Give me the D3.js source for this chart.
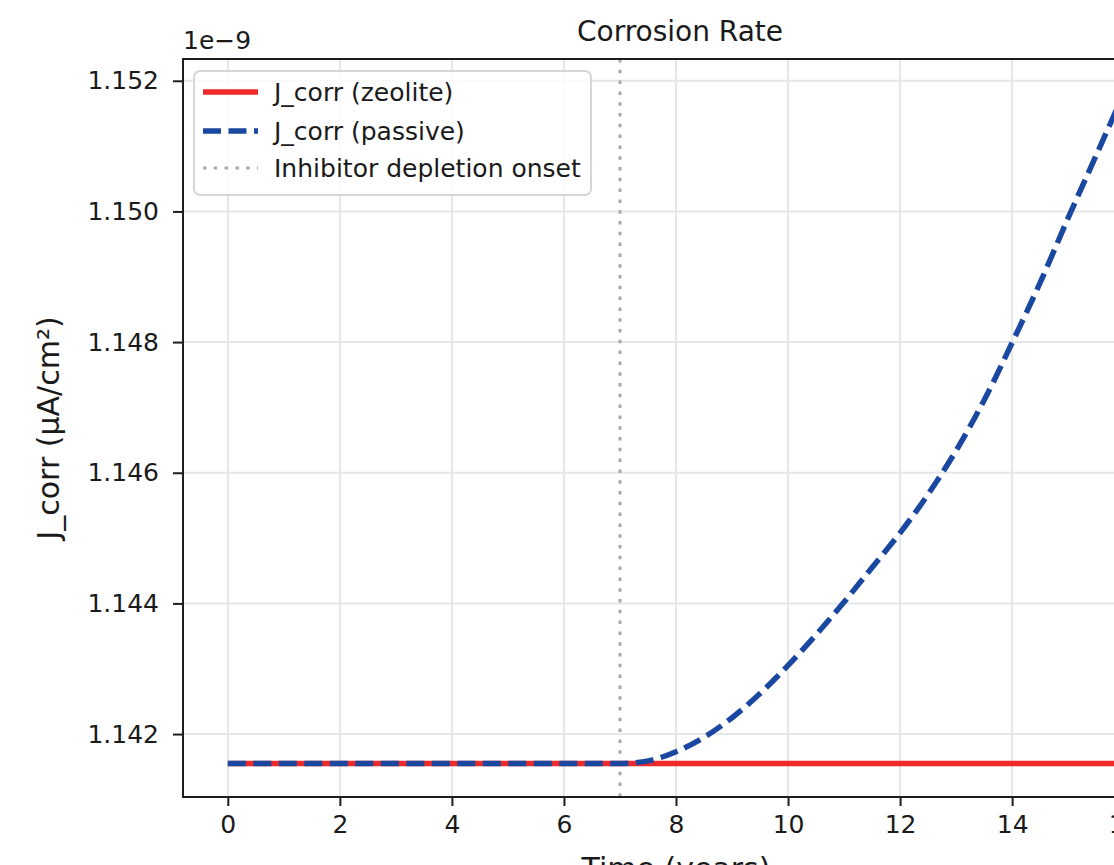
<!DOCTYPE html>
<html>
<head>
<meta charset="utf-8">
<script src="https://cdn.jsdelivr.net/npm/d3@7"></script>
<style>
  html, body { margin: 0; padding: 0; background: #fff; overflow: hidden; }
  svg { display: block; font-family: "DejaVu Sans", sans-serif; }
</style>
</head>
<body>
<div id="chart"></div>
<script>
// ---- data (values shown with a 1e-9 offset) ----
const times = [0,1,2,3,4,5,6,7,7.5,8,8.5,9,9.5,10,10.5,11,11.5,12,12.5,13,13.5,14,14.5,15,15.5,16];
const zeoliteValues = [1.14155,1.14155,1.14155,1.14155,1.14155,1.14155,1.14155,1.14155,1.14155,1.14155,1.14155,1.14155,1.14155,1.14155,1.14155,1.14155,1.14155,1.14155,1.14155,1.14155,1.14155,1.14155,1.14155,1.14155,1.14155,1.14155].map(v => v * 1e-9);
const passiveValues = [1.14155,1.14155,1.14155,1.14155,1.14155,1.14155,1.14155,1.14155,1.14159,1.14173,1.14195,1.14225,1.14262,1.14305,1.14352,1.14402,1.14455,1.14508,1.14567,1.14634,1.14711,1.14799,1.14891,1.14990,1.15086,1.15182].map(v => v * 1e-9);
const depletionOnset = 7;
const xTicks = [0,2,4,6,8,10,12,14,16];
const yTicks = [1.142e-9,1.144e-9,1.146e-9,1.148e-9,1.150e-9,1.152e-9];
const legendLabels = ["J_corr (zeolite)", "J_corr (passive)", "Inhibitor depletion onset"];
const titleText = "Corrosion Rate";
const xLabelText = "Time (years)";
const yLabelText = "J_corr (μA/cm²)";
const offsetText = "1e\u22129";

// ---- layout ----
const W = 1114, H = 865;
const plot = { left: 183, right: 1169, top: 59, bottom: 797 };
const colors = { zeolite: "#ee2a2a", passive: "#1a47a0", onset: "#a8a8a8", grid: "#e3e7ea", spine: "#1e1e1e", text: "#1a1a1a" };

const svg = d3.select("#chart").append("svg").attr("width", W).attr("height", H);

// scales with matplotlib-like 5% margins
const tMin = d3.min(times), tMax = d3.max(times);
const tPad = (tMax - tMin) * 0.05;
const x = d3.scaleLinear().domain([tMin - tPad, tMax + tPad]).range([plot.left, plot.right]);
const allV = zeoliteValues.concat(passiveValues);
const vMin = d3.min(allV), vMax = d3.max(allV);
const vPad = (vMax - vMin) * 0.05;
const y = d3.scaleLinear().domain([vMin - vPad, vMax + vPad]).range([plot.bottom, plot.top]);

// clip
svg.append("clipPath").attr("id", "clip").append("rect")
  .attr("x", plot.left).attr("y", plot.top)
  .attr("width", plot.right - plot.left).attr("height", plot.bottom - plot.top);

// grid
const grid = svg.append("g").attr("clip-path", "url(#clip)");
grid.selectAll(".gx").data(xTicks).join("line")
  .attr("x1", d => x(d)).attr("x2", d => x(d))
  .attr("y1", plot.top).attr("y2", plot.bottom)
  .attr("stroke", colors.grid).attr("stroke-width", 2);
grid.selectAll(".gy").data(yTicks).join("line")
  .attr("x1", plot.left).attr("x2", plot.right)
  .attr("y1", d => y(d)).attr("y2", d => y(d))
  .attr("stroke", colors.grid).attr("stroke-width", 2);

// lines
const lines = svg.append("g").attr("clip-path", "url(#clip)");
const lineGen = vals => d3.line().x((d, i) => x(times[i])).y(d => y(d)).curve(d3.curveMonotoneX)(vals);

lines.append("line")
  .attr("x1", x(depletionOnset)).attr("x2", x(depletionOnset))
  .attr("y1", plot.top).attr("y2", plot.bottom)
  .attr("stroke", colors.onset).attr("stroke-width", 3)
  .attr("stroke-dasharray", "3.5 7.3");

lines.append("path").attr("d", lineGen(zeoliteValues))
  .attr("fill", "none").attr("stroke", colors.zeolite).attr("stroke-width", 5.5);
lines.append("path").attr("d", lineGen(passiveValues))
  .attr("fill", "none").attr("stroke", colors.passive).attr("stroke-width", 5.5)
  .attr("stroke-dasharray", "18 7.5");

// axes
const fmtY = d => (d / 1e-9).toFixed(3);
const xAxis = d3.axisBottom(x).tickValues(xTicks).tickSize(9).tickPadding(8).tickFormat(d3.format("d"));
const yAxis = d3.axisLeft(y).tickValues(yTicks).tickSize(10).tickPadding(14).tickFormat(fmtY);

const gx = svg.append("g").attr("transform", `translate(0,${plot.bottom})`).call(xAxis);
const gy = svg.append("g").attr("transform", `translate(${plot.left},0)`).call(yAxis);
[gx, gy].forEach(g => {
  g.select(".domain").remove();
  g.selectAll(".tick line").attr("stroke", colors.spine).attr("stroke-width", 2);
  g.selectAll(".tick text").attr("fill", colors.text).attr("font-size", 25)
    .attr("font-family", "DejaVu Sans, sans-serif");
});
gx.selectAll(".tick text").attr("dy", "0.75em");

// spines
svg.append("rect")
  .attr("x", plot.left).attr("y", plot.top)
  .attr("width", plot.right - plot.left).attr("height", plot.bottom - plot.top)
  .attr("fill", "none").attr("stroke", colors.spine).attr("stroke-width", 2);

// texts
svg.append("text").attr("x", (plot.left + plot.right) / 2 + 4).attr("y", 41)
  .attr("text-anchor", "middle").attr("font-size", 28).attr("fill", colors.text).text(titleText);
svg.append("text").attr("x", plot.left).attr("y", 49)
  .attr("font-size", 25).attr("fill", colors.text).text(offsetText);
svg.append("text").attr("transform", `translate(59,${(plot.top + plot.bottom) / 2}) rotate(-90)`)
  .attr("text-anchor", "middle").attr("font-size", 30).attr("fill", colors.text).text(yLabelText);
svg.append("text").attr("x", (plot.left + plot.right) / 2).attr("y", 879)
  .attr("text-anchor", "middle").attr("font-size", 30).attr("fill", colors.text).text(xLabelText);

// legend
const lg = svg.append("g");
lg.append("rect").attr("x", 194).attr("y", 71).attr("width", 397).attr("height", 124)
  .attr("rx", 6).attr("fill", "rgba(255,255,255,0.8)").attr("stroke", "#d6d6d6").attr("stroke-width", 2);
const legendStyles = [
  { color: colors.zeolite, width: 5.5, dash: null },
  { color: colors.passive, width: 5.5, dash: "18 7.5" },
  { color: colors.onset, width: 3, dash: "3.5 7.3" }
];
const rowY = [92, 131, 168];
legendLabels.forEach((lab, i) => {
  const s = legendStyles[i];
  const l = lg.append("line").attr("x1", 203).attr("x2", 258).attr("y1", rowY[i]).attr("y2", rowY[i])
    .attr("stroke", s.color).attr("stroke-width", s.width);
  if (s.dash) l.attr("stroke-dasharray", s.dash);
  lg.append("text").attr("x", 274).attr("y", rowY[i] + 9).attr("font-size", 25)
    .attr("fill", colors.text).text(lab);
});
</script>
</body>
</html>
